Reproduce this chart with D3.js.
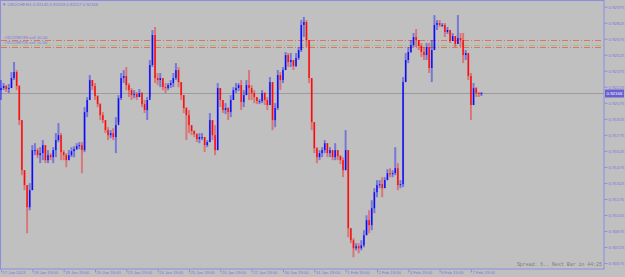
<!DOCTYPE html>
<html>
<head>
<meta charset="utf-8">
<script src="https://cdn.jsdelivr.net/npm/d3@7"></script>
<style>
  html, body { margin: 0; padding: 0; background: #c0c0c0; }
  svg { display: block; }
</style>
</head>
<body>
<svg id="chart"></svg>
<script>
// USDCHF H1 snapshot, resampled to 2-hour bars
const firstOpen = 0.92194;
const highs = [
  0.92288,0.92260,0.92241,0.92251,0.92363,0.92457,0.92382,0.92241,0.91913,0.91444,
  0.91304,0.91322,0.91679,0.91697,0.91651,0.91660,0.91726,0.91679,0.91632,0.91604,
  0.91660,0.91791,0.91885,0.91791,0.91632,0.91604,0.91632,0.91660,0.91669,0.91697,
  0.91707,0.91707,0.92035,0.92129,0.92335,0.92288,0.92260,0.92147,0.92072,0.91988,
  0.91913,0.91847,0.91819,0.91838,0.91941,0.92147,0.92354,0.92382,0.92410,0.92260,
  0.92213,0.92194,0.92176,0.92204,0.92176,0.92101,0.92129,0.92476,0.92757,0.92785,
  0.92354,0.92354,0.92307,0.92260,0.92260,0.92288,0.92354,0.92447,0.92410,0.92269,
  0.92147,0.92035,0.92007,0.91866,0.91819,0.91791,0.91791,0.91791,0.91754,0.91726,
  0.91979,0.91913,0.91866,0.92260,0.92213,0.92101,0.92072,0.92035,0.92147,0.92222,
  0.92260,0.92260,0.92288,0.92194,0.92288,0.92382,0.92241,0.92194,0.92129,0.92110,
  0.92194,0.92176,0.92129,0.92316,0.92269,0.92072,0.92382,0.92363,0.92410,0.92551,
  0.92541,0.92541,0.92476,0.92541,0.92597,0.92850,0.92879,0.92850,0.92663,0.92307,
  0.91894,0.91660,0.91632,0.91660,0.91726,0.91697,0.91660,0.91632,0.91697,0.91632,
  0.91585,0.91566,0.91819,0.91632,0.90901,0.90807,0.90760,0.90760,0.90788,0.90882,
  0.91022,0.91069,0.91163,0.91276,0.91351,0.91351,0.91379,0.91379,0.91454,0.91463,
  0.91444,0.91660,0.91510,0.91351,0.92316,0.92541,0.92597,0.92663,0.92729,0.92766,
  0.92663,0.92635,0.92597,0.92635,0.92635,0.92663,0.92897,0.92850,0.92850,0.92822,
  0.92822,0.92785,0.92757,0.92729,0.92700,0.92897,0.92729,0.92729,0.92569,0.92541,
  0.92354,0.92260,0.92222,0.92176,0.92176
];
const lows = [
  0.92101,0.92194,0.92176,0.92166,0.92213,0.92288,0.92194,0.91866,0.91397,0.91257,
  0.90854,0.91069,0.91257,0.91585,0.91557,0.91510,0.91538,0.91510,0.91510,0.91538,
  0.91510,0.91566,0.91707,0.91538,0.91538,0.91472,0.91538,0.91566,0.91566,0.91632,
  0.91641,0.91416,0.91613,0.91941,0.92101,0.92194,0.92101,0.92035,0.91913,0.91885,
  0.91791,0.91726,0.91744,0.91726,0.91604,0.91894,0.92101,0.92260,0.92194,0.92129,
  0.92101,0.92119,0.92101,0.92129,0.92035,0.91979,0.91913,0.92129,0.92410,0.92260,
  0.92241,0.92222,0.92194,0.92166,0.92194,0.92213,0.92222,0.92288,0.92222,0.92101,
  0.91979,0.91726,0.91791,0.91772,0.91754,0.91707,0.91697,0.91726,0.91613,0.91660,
  0.91707,0.91726,0.91585,0.91632,0.92035,0.91979,0.91969,0.91913,0.91941,0.92101,
  0.92166,0.92185,0.92007,0.92035,0.92147,0.92101,0.92101,0.92072,0.92063,0.92063,
  0.92072,0.92054,0.92007,0.92054,0.91819,0.91847,0.92007,0.92194,0.92260,0.92382,
  0.92410,0.92410,0.92382,0.92410,0.92476,0.92551,0.92691,0.92597,0.92260,0.91819,
  0.91604,0.91510,0.91538,0.91566,0.91604,0.91566,0.91566,0.91538,0.91538,0.91538,
  0.91501,0.91379,0.91444,0.90816,0.90760,0.90629,0.90694,0.90666,0.90694,0.90722,
  0.90835,0.90854,0.90882,0.91041,0.91191,0.91276,0.91191,0.91276,0.91351,0.91379,
  0.91379,0.91397,0.91257,0.91276,0.91285,0.92269,0.92447,0.92541,0.92597,0.92597,
  0.92569,0.92504,0.92476,0.92476,0.92354,0.92269,0.92569,0.92757,0.92785,0.92785,
  0.92691,0.92719,0.92635,0.92654,0.92597,0.92626,0.92597,0.92447,0.92476,0.92288,
  0.91913,0.92054,0.92129,0.92129,0.92138
];
const closes = [
  0.92213,0.92232,0.92204,0.92213,0.92307,0.92363,0.92232,0.91913,0.91444,0.91304,
  0.91097,0.91257,0.91632,0.91632,0.91585,0.91604,0.91679,0.91538,0.91585,0.91566,
  0.91632,0.91726,0.91772,0.91613,0.91585,0.91538,0.91585,0.91622,0.91641,0.91669,
  0.91679,0.91632,0.91988,0.92101,0.92288,0.92232,0.92138,0.92063,0.91960,0.91913,
  0.91819,0.91772,0.91791,0.91754,0.91866,0.92119,0.92307,0.92326,0.92241,0.92194,
  0.92147,0.92157,0.92129,0.92166,0.92063,0.92007,0.92101,0.92429,0.92710,0.92307,
  0.92288,0.92307,0.92222,0.92213,0.92241,0.92260,0.92307,0.92382,0.92269,0.92147,
  0.92026,0.91960,0.91866,0.91810,0.91782,0.91735,0.91754,0.91754,0.91679,0.91707,
  0.91913,0.91772,0.91632,0.92213,0.92101,0.92007,0.92026,0.91988,0.92101,0.92194,
  0.92213,0.92241,0.92082,0.92147,0.92241,0.92213,0.92166,0.92129,0.92091,0.92091,
  0.92166,0.92101,0.92054,0.92269,0.91913,0.92026,0.92335,0.92288,0.92382,0.92522,
  0.92457,0.92476,0.92419,0.92494,0.92569,0.92804,0.92832,0.92663,0.92307,0.91894,
  0.91651,0.91566,0.91604,0.91632,0.91697,0.91604,0.91632,0.91566,0.91632,0.91576,
  0.91538,0.91444,0.91632,0.90901,0.90788,0.90713,0.90732,0.90713,0.90741,0.90835,
  0.90976,0.90929,0.91088,0.91238,0.91304,0.91313,0.91276,0.91351,0.91416,0.91407,
  0.91416,0.91463,0.91304,0.91313,0.92269,0.92476,0.92551,0.92616,0.92691,0.92663,
  0.92607,0.92551,0.92522,0.92597,0.92401,0.92569,0.92804,0.92822,0.92804,0.92804,
  0.92738,0.92757,0.92654,0.92700,0.92626,0.92682,0.92663,0.92522,0.92541,0.92326,
  0.92054,0.92213,0.92166,0.92157,0.92166
];

const priceTicks = [0.92975, 0.92825, 0.92675, 0.92525, 0.92375, 0.92225, 0.92075,
  0.91925, 0.91775, 0.91625, 0.91475, 0.91325, 0.91175, 0.91025, 0.90875, 0.90725, 0.90575];
const timeLabels = ["17 Jan 2023", "18 Jan 19:00", "19 Jan 19:00", "20 Jan 19:00",
  "23 Jan 19:00", "24 Jan 19:00", "25 Jan 19:00", "26 Jan 19:00", "27 Jan 19:00",
  "30 Jan 19:00", "31 Jan 19:00", "1 Feb 19:00", "2 Feb 19:00", "3 Feb 19:00",
  "6 Feb 19:00", "7 Feb 19:00"];
const barsPerLabel = 12;

const titleText = "USDCHF,H1  0.92145 0.92169 0.92117 0.92166";
const orderLevels = [0.92663, 0.92613, 0.92597];
const orderColors = ["#e8705a", "#8cc88c", "#e8705a"];
const orderTexts = ["#312298749 sell 10.00", "#312298758 sell 10.00"];
const bidPrice = 0.92166;
const statusText = "Spread: 6.. Next Bar in 44:25";

const getConfig = () => {
  const dimensions = { width: 625, height: 277, plotRight: 604, plotBottom: 269 };
  const svg = d3.select("#chart")
    .attr("width", dimensions.width)
    .attr("height", dimensions.height);
  return { container: svg, dimensions };
};

const getScales = config => {
  const xScale = d3.scaleLinear()
    .domain([0, closes.length - 1])
    .range([1, 481.4]);
  const yScale = d3.scaleLinear()
    .domain([0.90575, 0.92975])
    .range([263, 6.7]);
  return { xScale, yScale };
};

const drawFrame = config => {
  const { container, dimensions } = config;
  container.append("rect")
    .attr("x", 0.5).attr("y", 0.5)
    .attr("width", dimensions.plotRight - 0.5)
    .attr("height", dimensions.plotBottom - 0.5)
    .attr("fill", "none")
    .attr("stroke", "#8c8ce0")
    .attr("stroke-width", 1);
};

const drawAxes = (config, scales) => {
  const { container, dimensions } = config;
  const { xScale, yScale } = scales;

  const yAxis = d3.axisRight(yScale)
    .tickValues(priceTicks)
    .tickFormat(d3.format(".5f"))
    .tickSize(3)
    .tickPadding(1);
  const gy = container.append("g")
    .attr("transform", `translate(${dimensions.plotRight + 0.5},0)`)
    .call(yAxis);
  gy.select(".domain").remove();
  gy.selectAll("line").attr("stroke", "#8c8ce0");
  gy.selectAll("text")
    .attr("fill", "#7a7ad8")
    .style("font", "4.4px 'Liberation Sans', Arial, sans-serif");

  const xAxis = d3.axisBottom(xScale)
    .tickValues(timeLabels.map((d, i) => i * barsPerLabel))
    .tickFormat((d, i) => timeLabels[i])
    .tickSize(3)
    .tickPadding(1);
  const gx = container.append("g")
    .attr("transform", `translate(0,${dimensions.plotBottom + 0.5})`)
    .call(xAxis);
  gx.select(".domain").remove();
  gx.selectAll("line").attr("stroke", "#8c8ce0");
  gx.selectAll("text")
    .attr("fill", "#7a7ad8")
    .attr("text-anchor", "start")
    .attr("dx", 1)
    .attr("dy", "0.2em")
    .style("font", "4.2px 'Liberation Sans', Arial, sans-serif");
};

const drawLevels = (config, scales) => {
  const { container, dimensions } = config;
  const { yScale } = scales;

  // bid line
  container.append("line")
    .attr("x1", 1).attr("x2", dimensions.plotRight)
    .attr("y1", Math.round(yScale(bidPrice)) + 0.5)
    .attr("y2", Math.round(yScale(bidPrice)) + 0.5)
    .attr("stroke", "#9c9c9c")
    .attr("stroke-width", 1);

  // order lines
  container.selectAll(".order")
    .data(orderLevels)
    .join("line")
    .attr("class", "order")
    .attr("x1", 1).attr("x2", dimensions.plotRight - 1)
    .attr("y1", d => Math.round(yScale(d)) + 0.5)
    .attr("y2", d => Math.round(yScale(d)) + 0.5)
    .attr("stroke", (d, i) => orderColors[i])
    .attr("stroke-width", 1)
    .attr("stroke-dasharray", "6,2,1,2");

  container.selectAll(".order-label")
    .data(orderTexts)
    .join("text")
    .attr("class", "order-label")
    .attr("x", 4)
    .attr("y", (d, i) => Math.round(yScale(orderLevels[i])) - 1.5)
    .attr("fill", "#7a7ad8")
    .style("font", "4.3px 'Liberation Sans', Arial, sans-serif")
    .text(d => d);
};

const drawBars = (config, scales) => {
  const { container } = config;
  const { xScale, yScale } = scales;
  const bars = closes.map((c, i) => ({
    i,
    open: i === 0 ? firstOpen : closes[i - 1],
    close: c,
    high: highs[i],
    low: lows[i]
  }));
  const up = "#0000ff", down = "#ff0000";

  container.append("g")
    .selectAll("line")
    .data(bars)
    .join("line")
    .attr("x1", d => xScale(d.i)).attr("x2", d => xScale(d.i))
    .attr("y1", d => yScale(d.high)).attr("y2", d => yScale(d.low))
    .attr("stroke", d => (d.close >= d.open ? up : down))
    .attr("stroke-opacity", 0.38)
    .attr("stroke-width", 2);

  container.append("g")
    .selectAll("rect")
    .data(bars)
    .join("rect")
    .attr("x", d => xScale(d.i) - 0.7)
    .attr("width", 1.4)
    .attr("y", d => yScale(Math.max(d.open, d.close)))
    .attr("height", d => Math.max(1, Math.abs(yScale(d.open) - yScale(d.close))))
    .attr("fill", d => (d.close >= d.open ? up : down))
    .attr("fill-opacity", 0.9);
};

const drawLabels = (config, scales) => {
  const { container, dimensions } = config;
  const { yScale } = scales;

  const title = container.append("text")
    .attr("x", 2).attr("y", 6)
    .attr("fill", "#7a7ad8")
    .style("font", "4.3px 'Liberation Sans', Arial, sans-serif");
  title.append("tspan").text("\u25BC ");
  title.append("tspan").text(titleText);

  const yb = Math.round(yScale(bidPrice));
  container.append("rect")
    .attr("x", dimensions.plotRight + 1).attr("y", yb - 3.5)
    .attr("width", 19).attr("height", 8)
    .attr("fill", "#6a5fd0");
  container.append("text")
    .attr("x", dimensions.plotRight + 2.5).attr("y", yb + 2)
    .attr("fill", "#ffffff")
    .style("font", "4.4px 'Liberation Sans', Arial, sans-serif")
    .text(d3.format(".5f")(bidPrice));

  container.append("text")
    .attr("x", dimensions.plotRight - 2).attr("y", dimensions.plotBottom - 3)
    .attr("text-anchor", "end")
    .attr("fill", "#7c7c7c")
    .style("font", "4.9px 'Liberation Mono', monospace")
    .text(statusText);
};

const renderChart = () => {
  const config = getConfig();
  const scales = getScales(config);
  drawFrame(config);
  drawLevels(config, scales);
  drawBars(config, scales);
  drawAxes(config, scales);
  drawLabels(config, scales);
};

renderChart();
</script>
</body>
</html>
